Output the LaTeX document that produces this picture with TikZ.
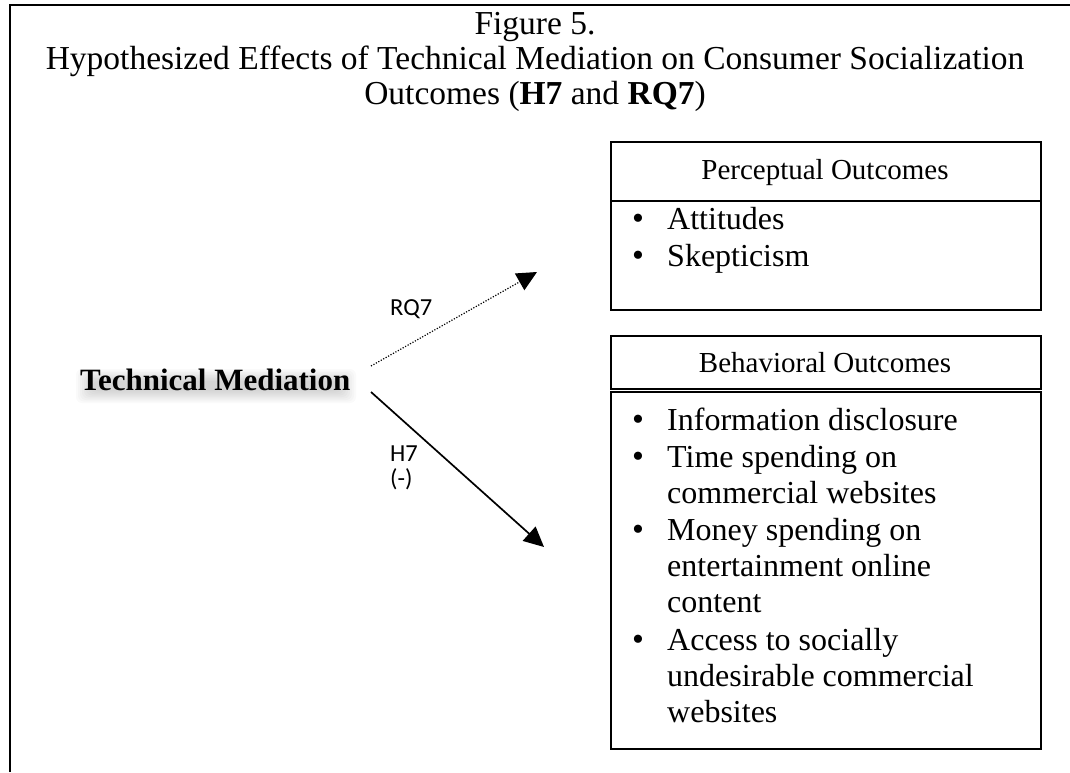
\documentclass[tikz,border=0pt]{standalone}
\usepackage{fontspec}
\setmainfont{Liberation Serif}
\newfontfamily\calibri{Carlito}
\usetikzlibrary{arrows.meta,calc}
\begin{document}
\begin{tikzpicture}[x=1pt,y=-1pt,
  frame/.style={line width=2pt},
  box/.style={draw, line width=1.6pt, minimum width=430pt, anchor=north west, inner sep=0pt},
  title/.style={anchor=base, inner sep=0pt, font=\fontsize{33.5}{38}\selectfont},
  head/.style={anchor=base, inner sep=0pt, font=\fontsize{29}{35}\selectfont},
  item/.style={anchor=base west, inner sep=0pt, font=\fontsize{32}{36}\selectfont},
  bul/.style={anchor=base, inner sep=0pt, font=\fontsize{34}{36}\selectfont},
  lab/.style={anchor=base west, inner sep=0pt, font=\calibri\fontsize{24.5}{28}\selectfont},
  tmtext/.style={anchor=base west, inner sep=0pt, font=\bfseries\fontsize{31}{36}\selectfont},
  arr/.style={-{Triangle[length=20pt,width=19pt]}},
  dots/.style={dash pattern=on 1.2pt off 1.6pt, line width=1.2pt},
  glow/.style={fill=black, opacity=0.018, rounded corners=6pt},
]
\useasboundingbox (0,0) rectangle (1070,772);
\draw[frame] (10,772) -- (10,5) -- (1070,5);

% title
\node[title] (t1) at (535,34) {Figure 5.};
\node[title] (t2) at (535,69) {Hypothesized Effects of Technical Mediation on Consumer Socialization};
\node[title] (t3) at (535,104) {Outcomes (\textbf{H7} and \textbf{RQ7})};

% boxes
\node[box, minimum height=59pt] (ph) at (610,141) {};
\node[box, minimum height=109pt] (pb) at (610,200) {};
\node[box, minimum height=53pt] (bh) at (610,335) {};
\node[box, minimum height=357pt] (bb) at (610,391) {};

\node[head] (pht) at (825,179) {Perceptual Outcomes};
\node[head] (bht) at (825,372) {Behavioral Outcomes};

% perceptual items
\node[bul] (pb1) at (638,229) {\textbullet};
\node[item] (pi1) at (667,229) {Attitudes};
\node[bul] (pb2) at (638,266) {\textbullet};
\node[item] (pi2) at (667,266) {Skepticism};

% behavioral items
\node[bul] (bb1) at (638,430) {\textbullet};
\node[item] (bi1) at (667,430) {Information disclosure};
\node[bul] (bb2) at (638,467) {\textbullet};
\node[item] (bi2) at (667,467) {Time spending on};
\node[item] (bi3) at (667,503) {commercial websites};
\node[bul] (bb3) at (638,540) {\textbullet};
\node[item] (bi4) at (667,540) {Money spending on};
\node[item] (bi5) at (667,576) {entertainment online};
\node[item] (bi6) at (667,612) {content};
\node[bul] (bb4) at (638,650) {\textbullet};
\node[item] (bi7) at (667,650) {Access to socially};
\node[item] (bi8) at (667,686) {undesirable commercial};
\node[item] (bi9) at (667,722) {websites};

% technical mediation with soft shadow
\foreach \k in {0,...,8}{
  \fill[glow] ($(216,386)+(-140+2*\k,-17+1.5*\k)$) rectangle ($(216,386)+(140-2*\k,17-1.5*\k)$);
}
\node[tmtext] (tm) at (80,390) {Technical Mediation};

% arrows
\coordinate (s1) at (371,366);
\coordinate (e1) at (537,272);
\coordinate (s2) at (371,392);
\coordinate (e2) at (544,547);
\draw[arr, dots] (s1) -- (e1);
\draw[arr, line width=1.7pt] (s2) -- (e2);

\node[lab] (rq) at (390,315) {RQ7};
\node[lab] (h7) at (390,461) {H7};
\node[lab] (neg) at (390,486) {(-)};
\end{tikzpicture}
\end{document}
